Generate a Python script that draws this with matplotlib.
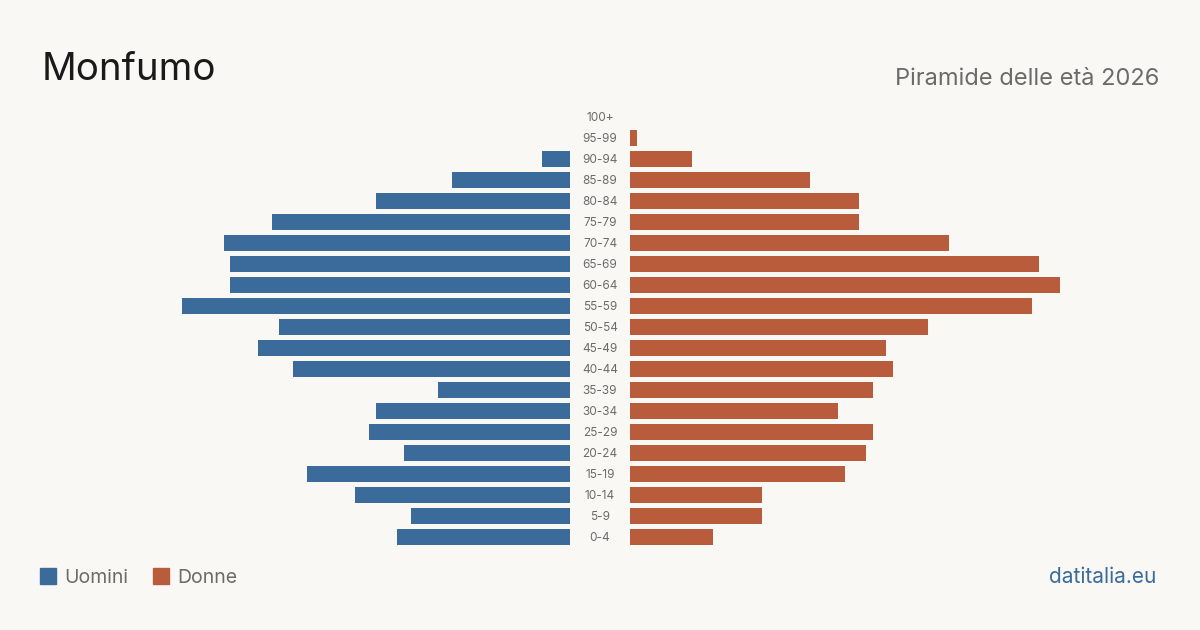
import matplotlib
matplotlib.use("Agg")
import matplotlib.pyplot as plt
from matplotlib.patches import Rectangle

age_groups = ["0-4", "5-9", "10-14", "15-19", "20-24", "25-29", "30-34", "35-39",
              "40-44", "45-49", "50-54", "55-59", "60-64", "65-69", "70-74", "75-79",
              "80-84", "85-89", "90-94", "95-99", "100+"]
men = [25, 23, 31, 38, 24, 29, 28, 19, 40, 45, 42, 56, 49, 49, 50, 43, 28, 17, 4, 0, 0]
women = [12, 19, 19, 31, 34, 35, 30, 35, 38, 37, 43, 58, 62, 59, 46, 33, 33, 26, 9, 1, 0]

title = "Monfumo"
subtitle = "Piramide delle età 2026"
legend_labels = ["Uomini", "Donne"]
source = "datitalia.eu"

BG = "#f9f8f4"
BLUE = "#3a6b9b"
ORANGE = "#b95c3b"
W, H = 1200, 630
XMAX = 62.05

plt.rcParams['font.family'] = ['Inter', 'DejaVu Sans']
fig = plt.figure(figsize=(W / 100, H / 100), dpi=100, facecolor=BG)

y_bottom = (H - 547.5) / H
y_height = 441 / H
axL = fig.add_axes([140 / W, y_bottom, 430 / W, y_height])
axR = fig.add_axes([630 / W, y_bottom, 430 / W, y_height])
ypos = list(range(len(age_groups)))
axL.barh(ypos, men, height=0.8, color=BLUE)
axR.barh(ypos, women, height=0.8, color=ORANGE)
axL.set_xlim(XMAX, 0)
axR.set_xlim(0, XMAX)
for ax in (axL, axR):
    ax.set_ylim(-0.5, len(age_groups) - 0.5)
    ax.axis("off")
    ax.set_facecolor("none")

for i, lab in enumerate(age_groups):
    fig.text(600 / W, (H - (541 - 21 * i)) / H, lab, ha="center", va="baseline",
             fontsize=8.5, color="#6b6b6b")

fig.text(42 / W, (H - 80) / H, title, ha="left", va="baseline", fontsize=27.7, color="#1a1a1a")
fig.text(1159 / W, (H - 85) / H, subtitle, ha="right", va="baseline", fontsize=17, color="#6b6b6b")

colors = [BLUE, ORANGE]
xs = [40, 153]
for x, lab, c in zip(xs, legend_labels, colors):
    fig.patches.append(Rectangle((x / W, (H - 584) / H), 16 / W, 16 / H,
                                 transform=fig.transFigure, color=c, figure=fig))
    fig.text((x + 24) / W, (H - 583) / H, lab, ha="left", va="baseline", fontsize=14, color="#6b6b6b")

fig.text(1156 / W, (H - 583) / H, source, ha="right", va="baseline", fontsize=15, color=BLUE)

fig.savefig("out.png", dpi=100, facecolor=BG)
